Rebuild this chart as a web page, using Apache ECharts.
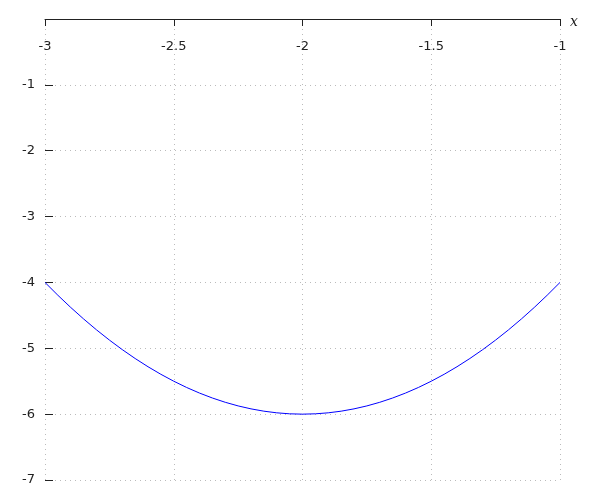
<!DOCTYPE html>
<html><head><meta charset="utf-8">
<script src="https://cdn.jsdelivr.net/npm/echarts@6/dist/echarts.min.js"></script>
<style>html,body{margin:0;padding:0;background:#fff}#c{width:600px;height:500px}</style>
</head><body><div id="c"></div>
<script>
var xs = [-3,-2.95,-2.9,-2.85,-2.8,-2.75,-2.7,-2.65,-2.6,-2.55,-2.5,-2.45,-2.4,-2.35,-2.3,-2.25,-2.2,-2.15,-2.1,-2.05,-2,
  -1.95,-1.9,-1.85,-1.8,-1.75,-1.7,-1.65,-1.6,-1.55,-1.5,-1.45,-1.4,-1.35,-1.3,-1.25,-1.2,-1.15,-1.1,-1.05,-1];
var ys = [-4,-4.195,-4.38,-4.555,-4.72,-4.875,-5.02,-5.155,-5.28,-5.395,-5.5,-5.595,-5.68,-5.755,-5.82,-5.875,-5.92,-5.955,-5.98,-5.995,-6,
  -5.995,-5.98,-5.955,-5.92,-5.875,-5.82,-5.755,-5.68,-5.595,-5.5,-5.395,-5.28,-5.155,-5.02,-4.875,-4.72,-4.555,-4.38,-4.195,-4];
var xTicks = [-3,-2.5,-2,-1.5,-1];
var yTicks = [-1,-2,-3,-4,-5,-6,-7];
var data = xs.map(function(x,i){return [x, ys[i]];});
var chart = echarts.init(document.getElementById('c'));
chart.setOption({
  animation:false,
  grid:{left:45,right:40,top:19,bottom:20,containLabel:false},
  xAxis:{type:'value',position:'top',min:-3,max:-1,interval:0.5,
    name:'x',nameLocation:'end',nameGap:10,
    nameTextStyle:{fontFamily:'DejaVu Serif',fontStyle:'italic',fontSize:14,color:'#222',verticalAlign:'top',lineHeight:6},
    axisLine:{show:true,onZero:false,lineStyle:{color:'#222',width:1}},
    axisTick:{show:true,inside:true,length:7,lineStyle:{color:'#222'}},
    axisLabel:{inside:true,margin:21,fontFamily:'DejaVu Sans',fontSize:13,color:'#222',
      formatter:function(v){return xTicks.indexOf(v)>=0?String(v):'';}},
    splitLine:{show:true,lineStyle:{type:[1,4],color:'#bbb',width:1}}
  },
  yAxis:{type:'value',min:-7,max:0,interval:1,
    axisLine:{show:false},
    axisTick:{show:true,inside:true,length:8,lineStyle:{color:'#222'}},
    axisLabel:{margin:10,fontFamily:'DejaVu Sans',fontSize:13,color:'#222',
      formatter:function(v){return yTicks.indexOf(v)>=0?String(v):'';}},
    splitLine:{show:true,lineStyle:{type:[1,4],color:'#bbb',width:1}}
  },
  series:[{type:'line',data:data,showSymbol:false,smooth:false,lineStyle:{color:'#0000ff',width:1}}]
});
</script></body></html>
